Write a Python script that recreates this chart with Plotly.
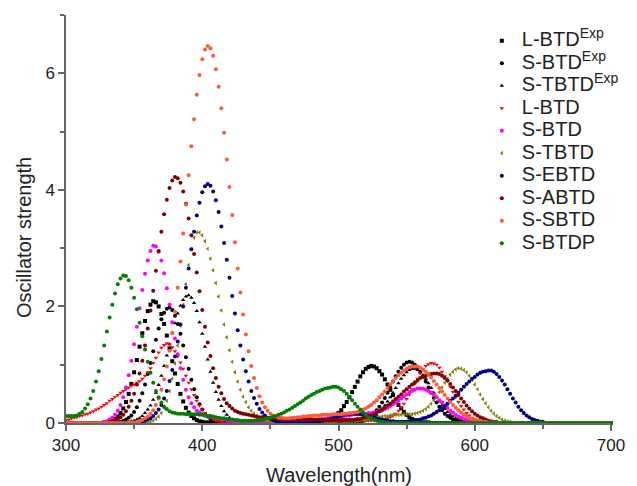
import plotly.graph_objects as go

# Wavelength grid (nm) and oscillator strengths (in hundredths)
WAVELENGTH = list(range(300, 701, 2))

L_BTD_EXP = [0]*14 + [1,1,3,4,7,11,17,25,36,50,67,87,108,131,154,175,192,203,209,207,200,187,170,150,128,106,85,67,50,37,26,18,12,8,5,3,2,1,1] + [0]*39 + [1,1,2,3,4,6,9,12,17,22,29,36,44,53,62,71,80,87,93,96,98,97,94,89,83,75,66,57,48,39,31,25,19,14,10,7,5,3,2,1,1,1] + [0]*67
S_BTD_EXP = [0]*20 + [2,4,6,9,13,19,27,38,51,66,84,103,123,143,162,178,189,196,198,194,184,170,153,133,113,93,74,58,44,32,23,16,11,7,4,3,2] + [0]*50 + [2,3,4,6,9,12,16,22,28,35,43,52,61,71,80,88,95,100,104,105,104,100,95,88,80,71,61,52,43,35,28,22,16,12,9,6,4,3,2] + [0]*55
S_TBTD_EXP = [0]*23 + [2,3,4,6,8,12,17,23,30,40,52,65,81,98,116,135,154,171,188,201,211,217,219,215,206,192,173,153,131,109,88,69,53,40,29,20,14,9,6,4,2] + [0]*44 + [2,3,4,6,8,11,14,19,24,30,37,44,52,60,68,76,82,87,91,93,93,91,87,82,76,68,60,52,44,37,30,24,19,14,11,8,6,4,3,2] + [0]*53
L_BTD = [5,6,8,9,10,12,13,15,16,18,20,23,25,28,31,34,38,41,45,48,52,55,58,61,64,66,69,72,76,81,87,94,103,112,121,129,134,137,135,130,123,114,104,93,81,69,58,48,38,30,23,17,13,9,6,4,3,2] + [0]*18 + [2,2,2,2,3,3,3,4,4,4,5,5,5,6,6,6,6,7,7,7,7,7,7,7,7,7,7,6,6,6,6,5,5,5,4,4,4,4,4,4,5,6,8,10,12,16,21,27,33,41,49,58,67,76,85,92,98,101,103,102,100,95,88,80,72,62,53,44,36,29,23,17,13,9,7,5,3,2] + [0]*47
S_BTD = [0]*14 + [2,3,6,9,14,21,31,44,61,82,107,135,165,197,228,256,279,295,304,303,294,279,257,231,203,173,145,118,94,74,57,44,34,27,21,18,15,13,12,11,10,9,8,7,6,5,4,4,3,2,2] + [0]*19 + [2,2,2,3,3,4,4,5,5,6,7,7,8,9,9,10,11,12,12,13,13,14,15,15,15,16,16,17,17,18,19,20,22,24,26,29,32,35,38,42,46,49,53,55,57,59,59,59,57,55,52,48,44,39,35,30,26,21,18,14,11,9,7,5,4,3,2] + [0]*50
S_TBTD = [0]*31 + [2,4,7,11,17,26,38,55,76,102,133,167,203,238,271,298,318,327,327,322,312,299,282,262,240,217,193,169,147,125,105,87,71,57,45,36,27,21,16,12,8,6,4,3,2] + [0]*28 + [2,2,3,3,4,5,5,6,7,8,9,10,11,12,12,13,14,14,14,14,15,15,15,15,16,17,19,21,24,28,33,39,46,53,61,69,76,83,88,92,94,93,91,87,81,74,66,58,49,41,34,27,21,16,12,9,6,4,3,2] + [0]*37
S_EBTD = [0]*27 + [2,2,4,6,8,12,17,23,31,42,55,72,91,114,140,169,200,232,265,298,
                   328,356,378,396,406,410,407,397,382,362,337,309,280,249,218,188,159,133,109,89,
                   71,55,43,33,24,18,13,9,7,5,3,2,0,0,0,0,0,0,0,0,
                   0,0,0,0,2,2,3,4,5,6,7,8,10,11,12,14,15,15,16,16,
                   16,15,15,14,12,11,10,8,7,6,5,4,3,3,2,2,2,2,2,3,
                   3,4,5,6,8,9,11,13,16,19,22,25,29,33,38,42,47,52,57,62,
                   67,71,76,79,83,86,88,89,90,90,88,84,79,73,66,58,50,42,35,28,
                   22,17,13,10,7,5,4,2,2] + [0]*25
S_ABTD = [0]*16 + [2,3,5,7,10,14,20,28,38,50,66,85,107,133,162,193,227,261,295,328,
                   358,383,403,416,422,420,412,397,376,351,322,290,258,226,194,165,138,115,94,77,
                   62,51,41,34,29,25,21,19,17,16,15,14,13,12,11,10,10,9,8,8,
                   8,8,7,7,7,7,7,7,7,7,7,7,7,7,7,6,6,6,6,5,
                   5,5,5,5,4,4,5,5,5,5,6,7,7,9,10,11,13,15,18,20,
                   23,26,30,33,37,41,45,49,54,58,62,66,70,73,77,79,81,83,84,85,
                   85,84,81,77,73,67,61,55,48,42,36,30,25,20,16,13,10,8,6,4,
                   3,2,2] + [0]*42
S_SBTD = [0]*23 + [1,1,1,2,3,5,8,11,16,22,31,42,57,75,97,124,155,191,232,277,325,375,425,475,521,563,597,624,641,647,643,630,607,577,540,498,452,405,357,310,265,224,186,152,123,98,77,60,46,35,27,21,16,13,11,9,9,8,8,8,9,9,10,10,11,11,12,12,13,13,13,14,14,14,14,15,15,15,15,16,16,17,17,18,19,21,23,25,28,31,35,39,44,49,54,60,66,71,77,82,86,90,93,96,97,97,97,95,92,88,84,78,72,66,60,54,48,42,36,31,26,22,18,14,12,9,7,6,4,3,2,2,1,1,1,1] + [0]*42
S_BTDP = [12,12,12,12,13,16,19,25,32,42,55,71,89,110,133,157,181,203,222,238,248,253,252,245,232,215,195,172,149,126,105,86,69,55,44,35,28,24,20,18,17,16,16,16,15,15,15,15,15,14,14,13,12,12,11,10,9,8,8,7,6,6,5,5,4,4,4,4,4,4,5,5,6,7,8,9,11,12,14,16,18,21,23,26,29,32,35,38,42,45,48,50,53,55,57,59,60,61,62,62,61,58,55,50,45,39,33,28,23,18,14,10,8,6,4,3,2,1,1] + [0]*82

SERIES = [
    ("L-BTD<sup>Exp</sup>", L_BTD_EXP, "#000000", "square"),
    ("S-BTD<sup>Exp</sup>", S_BTD_EXP, "#000000", "circle"),
    ("S-TBTD<sup>Exp</sup>", S_TBTD_EXP, "#000000", "triangle-up"),
    ("L-BTD", L_BTD, "#FF0000", "triangle-down"),
    ("S-BTD", S_BTD, "#FF00FF", "circle"),
    ("S-TBTD", S_TBTD, "#808000", "triangle-left"),
    ("S-EBTD", S_EBTD, "#000080", "circle"),
    ("S-ABTD", S_ABTD, "#800000", "circle"),
    ("S-SBTD", S_SBTD, "#FF5A36", "circle"),
    ("S-BTDP", S_BTDP, "#008000", "circle"),
]

FONT = "Liberation Sans, Arial, sans-serif"
fig = go.Figure()
for name, vals, color, sym in SERIES:
    fig.add_trace(go.Scatter(
        x=WAVELENGTH, y=[v / 100 for v in vals], mode="markers",
        name='<span style="font-size:20px">' + name + '</span>',
        marker=dict(color=color, size=4, symbol=sym, line=dict(width=0)),
        cliponaxis=False,
    ))

axis_common = dict(
    showline=True, linecolor="#666666", linewidth=1.5,
    ticks="outside", ticklen=6, tickwidth=1.5, tickcolor="#666666",
    showgrid=False, zeroline=False, mirror=False,
    tickfont=dict(family=FONT, size=17, color="#222222"),
    ticklabeloverflow="allow",
)
fig.update_xaxes(range=[300, 700], tick0=300, dtick=100,
                 minor=dict(dtick=50, ticklen=4, tickcolor="#666666", ticks="outside", showgrid=False),
                 **axis_common)
fig.update_yaxes(range=[0, 7], tick0=0, dtick=2,
                 minor=dict(dtick=1, ticklen=4, tickcolor="#666666", ticks="outside", showgrid=False),
                 **axis_common)

fig.update_layout(
    width=637, height=486,
    margin=dict(l=66, r=12, t=15, b=63),
    paper_bgcolor="white", plot_bgcolor="white",
    font=dict(family=FONT, color="#222222"),
    showlegend=True,
    legend=dict(x=0.763, y=0.977, xanchor="left", yanchor="top",
                bgcolor="rgba(0,0,0,0)", font=dict(family=FONT, size=15, color="#222222"),
                itemsizing="trace", tracegroupgap=0),
    annotations=[
        dict(text="Wavelength(nm)", xref="paper", yref="paper", x=0.5, y=-0.127,
             xanchor="center", yanchor="middle", showarrow=False,
             font=dict(family=FONT, size=20, color="#222222")),
        dict(text="Oscillator strength", xref="paper", yref="paper", x=-0.076, y=0.455,
             xanchor="center", yanchor="middle", textangle=-90, showarrow=False,
             font=dict(family=FONT, size=20, color="#222222")),
    ],
)
fig.write_html("out.html", config={"displayModeBar": False},
               post_script="document.body.style.margin='0';")
